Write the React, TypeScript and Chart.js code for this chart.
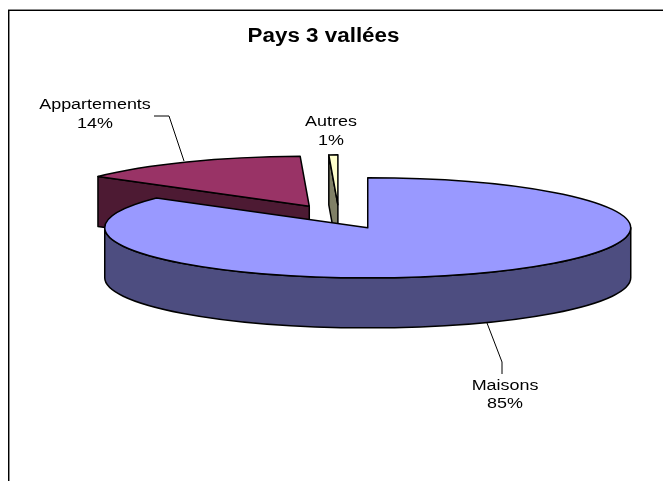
import React, { useEffect, useRef } from "react";
import { Chart, registerables } from "chart.js";

Chart.register(...registerables);

const chartTitle = "Pays 3 vallées";
const categories = ["Maisons", "Appartements", "Autres"];
const shares = [85.15, 14.3, 0.55];
const topColors = ["#9999FF", "#993366", "#FFFFCC"];
const sideColors = ["#4D4D80", "#4D1A33", "#808066"];

// Draw order: the slices furthest from the viewer first.
const paintOrder = [1, 2, 0];

const X_SQUASH = 263 / 217;
const Y_SQUASH = 50 / 217;
const EXPLODE = 0.243;
const DEPTH = 50;
const FONT = '"Liberation Sans", Arial, sans-serif';

// Label centres and leader polylines, per category.
const labelCentres = [
  { x: 505, y: 386, gap: 18 },
  { x: 95, y: 105, gap: 19 },
  { x: 331, y: 122, gap: 19 },
];
const leaders: [number, number][][] = [
  [[487, 323], [502, 362], [502, 374]],
  [[184, 161], [169, 116], [154, 116]],
  [],
];

function stretchedText(
  ctx: CanvasRenderingContext2D,
  text: string,
  x: number,
  y: number,
  font: string,
  stretch: number
) {
  ctx.save();
  ctx.translate(x, y);
  ctx.scale(stretch, 1);
  ctx.font = font;
  ctx.fillStyle = "#000000";
  ctx.textAlign = "center";
  ctx.textBaseline = "middle";
  ctx.fillText(text, 0, 0);
  ctx.restore();
}

const pie3d = {
  id: "pie3d",
  beforeDatasetsDraw(chart: any) {
    const ctx: CanvasRenderingContext2D = chart.ctx;
    const arcs = chart.getDatasetMeta(0).data;

    ctx.save();
    ctx.lineWidth = 1.5;
    ctx.strokeStyle = "#000000";
    ctx.lineJoin = "round";

    paintOrder.forEach((i) => {
      const arc = arcs[i];
      const { startAngle, endAngle, outerRadius } = arc;
      const rx = outerRadius * X_SQUASH;
      const ry = outerRadius * Y_SQUASH;
      const mid = (startAngle + endAngle) / 2;
      const ax = arc.x + Math.cos(mid) * EXPLODE * rx;
      const ay = arc.y + Math.sin(mid) * EXPLODE * ry;
      const rim = (t: number): [number, number] => [
        ax + Math.cos(t) * rx,
        ay + Math.sin(t) * ry,
      ];

      ctx.fillStyle = sideColors[i];
      // Cut walls, only those that face the viewer
      const walls: number[] = [];
      if (Math.cos(startAngle) < -1e-6) walls.push(startAngle);
      if (Math.cos(endAngle) > 1e-6) walls.push(endAngle);
      walls.forEach((t) => {
        const [px, py] = rim(t);
        ctx.beginPath();
        ctx.moveTo(ax, ay);
        ctx.lineTo(px, py);
        ctx.lineTo(px, py + DEPTH);
        ctx.lineTo(ax, ay + DEPTH);
        ctx.closePath();
        ctx.fill();
        ctx.stroke();
      });

      // Outer wall: the part of the rim that faces the viewer
      const from = Math.max(startAngle, 0);
      const to = Math.min(endAngle, Math.PI);
      if (to > from) {
        ctx.beginPath();
        ctx.ellipse(ax, ay, rx, ry, 0, from, to);
        ctx.ellipse(ax, ay + DEPTH, rx, ry, 0, to, from, true);
        ctx.closePath();
        ctx.fill();
        ctx.stroke();
      }

      // Top face
      ctx.fillStyle = topColors[i];
      ctx.beginPath();
      ctx.moveTo(ax, ay);
      ctx.ellipse(ax, ay, rx, ry, 0, startAngle, endAngle);
      ctx.closePath();
      ctx.fill();
      ctx.stroke();
    });
    ctx.restore();
    return false;
  },
  afterDraw(chart: any) {
    const ctx: CanvasRenderingContext2D = chart.ctx;
    ctx.save();

    // Frame: top and left edges only
    ctx.fillStyle = "#8C8C8C";
    ctx.fillRect(8, 9, 655, 1);
    ctx.fillRect(9, 10, 1, 471);
    ctx.fillStyle = "#000000";
    ctx.fillRect(8, 10, 655, 1);
    ctx.fillRect(8, 10, 1, 471);

    stretchedText(ctx, chartTitle, 323.5, 36, `bold 20px ${FONT}`, 1.12);

    ctx.strokeStyle = "#000000";
    ctx.lineWidth = 1;
    leaders.forEach((line) => {
      if (!line.length) return;
      ctx.beginPath();
      line.forEach(([x, y], k) => (k ? ctx.lineTo(x, y) : ctx.moveTo(x, y)));
      ctx.stroke();
    });

    const total = shares.reduce((a, b) => a + b, 0);
    categories.forEach((name, i) => {
      const c = labelCentres[i];
      const font = `14px ${FONT}`;
      stretchedText(ctx, name, c.x, c.y, font, 1.28);
      stretchedText(ctx, `${Math.round((shares[i] / total) * 100)}%`, c.x, c.y + c.gap, font, 1.28);
    });
    ctx.restore();
  },
};

export default function App() {
  const ref = useRef<HTMLCanvasElement>(null);

  useEffect(() => {
    document.body.style.margin = "0";
    const chart = new Chart(ref.current!, {
      type: "pie",
      data: {
        labels: categories,
        datasets: [
          {
            data: shares,
            backgroundColor: topColors,
            borderColor: "#000000",
            borderWidth: 0,
          },
        ],
      },
      options: {
        animation: false,
        responsive: false,
        layout: { padding: { left: 15, bottom: 47 } },
        plugins: {
          legend: { display: false },
          title: { display: false },
          tooltip: { enabled: false },
        },
      },
      plugins: [pie3d],
    } as any);
    return () => chart.destroy();
  }, []);

  return (
    <canvas
      ref={ref}
      width={663}
      height={481}
      style={{ display: "block", width: 663, height: 481, background: "#FFFFFF" }}
    />
  );
}
